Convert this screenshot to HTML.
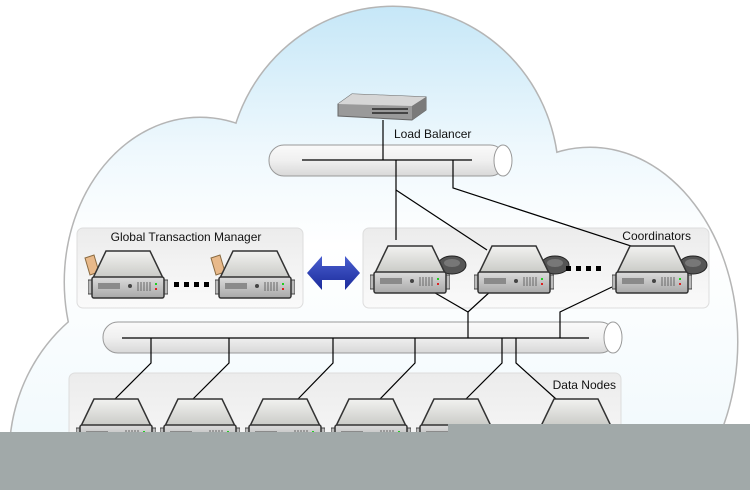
<!DOCTYPE html>
<html><head><meta charset="utf-8"><style>
html,body{margin:0;padding:0;background:#fff;width:750px;height:490px;overflow:hidden;}
svg{display:block;font-family:"Liberation Sans",sans-serif;}
</style></head><body>
<svg width="750" height="490" viewBox="0 0 750 490" xmlns="http://www.w3.org/2000/svg">
<defs>
<linearGradient id="sky" gradientUnits="userSpaceOnUse" x1="0" y1="0" x2="0" y2="490">
<stop offset="0" stop-color="#c4e6f7"/><stop offset="0.3" stop-color="#eef8fd"/><stop offset="0.5" stop-color="#ffffff"/><stop offset="1" stop-color="#eef8fc"/>
</linearGradient>
<linearGradient id="panel" x1="0" y1="0" x2="0" y2="1"><stop offset="0" stop-color="#ececec"/><stop offset="1" stop-color="#fafafa"/></linearGradient>
<linearGradient id="pipe" x1="0" y1="0" x2="0" y2="1"><stop offset="0" stop-color="#fafafa"/><stop offset="0.5" stop-color="#f0f0f0"/><stop offset="1" stop-color="#d8d8d8"/></linearGradient>
<linearGradient id="stop" x1="0" y1="0" x2="0" y2="1"><stop offset="0" stop-color="#f2f2f0"/><stop offset="1" stop-color="#c9cac6"/></linearGradient>
<linearGradient id="sfront" x1="0" y1="0" x2="0" y2="1"><stop offset="0" stop-color="#dcdcdc"/><stop offset="1" stop-color="#a8a8a8"/></linearGradient>
<linearGradient id="arr" x1="0" y1="0" x2="0" y2="1"><stop offset="0" stop-color="#4a5fd0"/><stop offset="1" stop-color="#1a2a9a"/></linearGradient>
<symbol id="srv" viewBox="0 0 80 50" width="80" height="50">
<rect x="0" y="30" width="7" height="14" fill="#bbb" stroke="#444" stroke-width="1"/>
<rect x="73" y="30" width="7" height="14" fill="#bbb" stroke="#444" stroke-width="1"/>
<polygon points="18,1 62,1 75,28 5,28" fill="url(#stop)" stroke="#333" stroke-width="1.5"/>
<rect x="4" y="27" width="72" height="21" rx="2" fill="url(#sfront)" stroke="#333" stroke-width="1.5"/>
<rect x="10" y="33" width="22" height="6" fill="#8a8a8a"/>
<circle cx="42" cy="36" r="2" fill="#444"/>
<g stroke="#666" stroke-width="1"><line x1="50" y1="32" x2="50" y2="41"/><line x1="53" y1="32" x2="53" y2="41"/><line x1="56" y1="32" x2="56" y2="41"/><line x1="59" y1="32" x2="59" y2="41"/><line x1="62" y1="32" x2="62" y2="41"/></g>
<rect x="67" y="33" width="2" height="2" fill="#2c2"/><rect x="67" y="38" width="2" height="2" fill="#d22"/>
</symbol>
<symbol id="disk" viewBox="0 0 30 30" width="30" height="30">
<ellipse cx="15" cy="15" rx="14" ry="9" fill="#555" stroke="#222"/>
<ellipse cx="15" cy="13" rx="8" ry="4" fill="#777"/>
</symbol>
<symbol id="tape" viewBox="0 0 16 22" width="16" height="22">
<polygon points="1,4 10,1 15,18 6,21" fill="#e8b98a" stroke="#8a6a40"/>
</symbol>
</defs>
<rect width="750" height="490" fill="#fff"/>
<g fill="none" stroke="#b5b5b5" stroke-width="3">
<ellipse cx="393" cy="178" rx="165" ry="171"/>
<ellipse cx="200" cy="282" rx="135" ry="164"/>
<ellipse cx="172" cy="455" rx="162" ry="172"/>
<ellipse cx="590" cy="342" rx="147" ry="194"/>
</g>
<g fill="url(#sky)">
<ellipse cx="393" cy="178" rx="165" ry="171"/>
<ellipse cx="200" cy="282" rx="135" ry="164"/>
<ellipse cx="172" cy="455" rx="162" ry="172"/>
<ellipse cx="590" cy="342" rx="147" ry="194"/>
<rect x="150" y="200" width="480" height="290"/>
</g>
<rect x="77" y="228" width="226" height="80" rx="6" fill="url(#panel)" stroke="#ddd"/>
<rect x="363" y="228" width="346" height="80" rx="6" fill="url(#panel)" stroke="#ddd"/>
<rect x="69" y="373" width="552" height="100" rx="6" fill="url(#panel)" stroke="#ddd"/>
<text x="186" y="241" font-size="12" text-anchor="middle" fill="#111">Global Transaction Manager</text>
<text x="691" y="240" font-size="12" text-anchor="end" fill="#111">Coordinators</text>
<text x="616" y="389" font-size="12" text-anchor="end" fill="#111">Data Nodes</text>
<text x="394" y="138" font-size="12" fill="#111">Load Balancer</text>
<rect x="269" y="145" width="236" height="31" rx="15" fill="url(#pipe)" stroke="#999"/>
<ellipse cx="503" cy="160.5" rx="9" ry="15.5" fill="#fff" stroke="#999"/>
<rect x="103" y="322" width="512" height="31" rx="15" fill="url(#pipe)" stroke="#999"/>
<ellipse cx="613" cy="337.5" rx="9" ry="15.5" fill="#fff" stroke="#999"/>
<polygon points="338,104 352,94 426,97 426,110 412,120 338,116" fill="#9a9a9a" stroke="#666"/>
<polygon points="338,104 352,94 426,97 412,106" fill="#d6d6d6"/>
<polygon points="412,106 426,97 426,110 412,120" fill="#7a7a7a"/>
<g fill="#444"><rect x="372" y="108" width="36" height="2"/><rect x="372" y="112" width="36" height="2"/></g>
<g stroke="#000" stroke-width="1.2" fill="none">
<line x1="383" y1="120" x2="383" y2="160"/>
<line x1="302" y1="160" x2="472" y2="160"/>
<polyline points="396,160 396,240"/>
<polyline points="396,190 487,250"/>
<polyline points="453,160 453,188 637,248"/>
<line x1="122" y1="338" x2="589" y2="338"/>
<polyline points="430,290 468,312 492,290"/>
<line x1="468" y1="312" x2="468" y2="338"/>
<polyline points="612,287 560,312 560,338"/>
<polyline points="151,338 151,363 115,399"/>
<polyline points="229,338 229,363 193,399"/>
<polyline points="333,338 333,363 298,399"/>
<polyline points="415,338 415,363 380,399"/>
<polyline points="502,338 502,363 466,399"/>
<polyline points="516,338 516,363 556,399"/>
</g>
<use href="#tape" x="84" y="254"/>
<use href="#srv" x="88" y="250"/>
<use href="#tape" x="210" y="254"/>
<use href="#srv" x="215" y="250"/>
<g fill="#000"><rect x="174" y="282" width="5" height="5"/><rect x="184" y="282" width="5" height="5"/><rect x="194" y="282" width="5" height="5"/><rect x="204" y="282" width="5" height="5"/></g>
<polygon points="307,273 322,256 322,266 345,266 345,256 360,273 345,290 345,280 322,280 322,290" fill="url(#arr)"/>
<use href="#disk" x="437" y="250"/><use href="#srv" x="370" y="245"/>
<use href="#disk" x="540" y="250"/><use href="#srv" x="474" y="245"/>
<use href="#disk" x="678" y="250"/><use href="#srv" x="612" y="245"/>
<g fill="#000"><rect x="566" y="266" width="5" height="5"/><rect x="576" y="266" width="5" height="5"/><rect x="586" y="266" width="5" height="5"/><rect x="596" y="266" width="5" height="5"/></g>
<use href="#srv" x="76" y="398"/>
<use href="#srv" x="160" y="398"/>
<use href="#srv" x="245" y="398"/>
<use href="#srv" x="331" y="398"/>
<use href="#srv" x="416" y="398"/>
<use href="#srv" x="536" y="398"/>
<rect x="0" y="432" width="750" height="58" fill="#a1a9a9"/>
<rect x="448" y="424" width="302" height="10" fill="#a1a9a9"/>
</svg>
</body></html>
